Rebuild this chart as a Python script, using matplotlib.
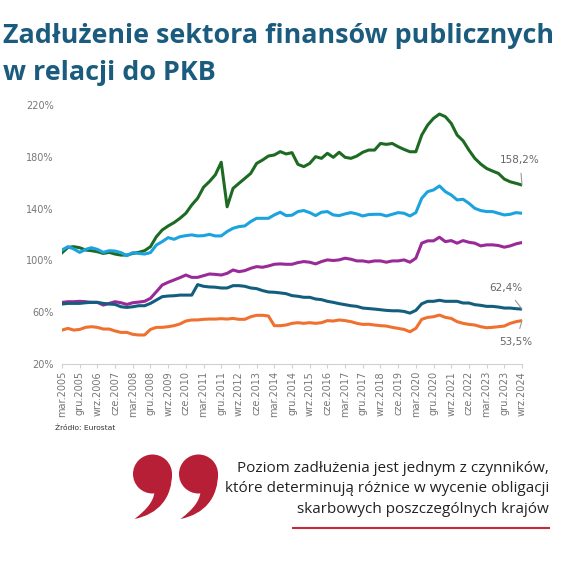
import numpy as np
import matplotlib.pyplot as plt
from matplotlib.path import Path
from matplotlib.patches import PathPatch, Circle

# quarterly, mar.2005 .. wrz.2024
months = ["mar", "cze", "wrz", "gru"]
quarters = [f"{months[q]}.{y}" for y in range(2005, 2025) for q in range(4)][:79]

greece = [105.9, 110.0, 110.6, 109.8, 108.0, 107.5, 106.7, 105.4, 106.2, 104.9,
          104.1, 104.1, 105.4, 106.2, 107.5, 110.6, 118.3, 123.5, 126.6, 129.2,
          132.5, 136.4, 142.8, 148.0, 156.5, 160.9, 166.1, 175.8, 141.4, 155.6,
          159.5, 163.3, 167.2, 174.9, 177.5, 180.6, 181.4, 184.0, 182.2, 183.2,
          174.2, 172.4, 174.9, 180.1, 178.8, 182.7, 179.6, 183.5, 179.6, 178.8,
          180.6, 183.5, 185.2, 185.2, 190.3, 189.6, 190.3, 187.8, 185.7, 183.9,
          183.9, 196.8, 204.5, 209.7, 213.0, 211.0, 205.8, 196.8, 192.4, 185.2,
          178.8, 174.4, 171.0, 169.0, 167.2, 162.8, 160.7, 159.5, 158.2]
italy = [108.0, 110.6, 108.8, 106.2, 108.5, 109.8, 108.5, 106.2, 107.5, 107.2,
         106.0, 103.6, 106.0, 105.4, 104.9, 106.0, 111.9, 114.5, 117.6, 116.3,
         118.3, 119.1, 119.7, 118.9, 119.1, 120.1, 118.9, 118.9, 122.3, 124.8,
         126.1, 126.6, 130.0, 132.5, 132.5, 132.5, 135.1, 137.2, 134.6, 134.9,
         137.7, 138.5, 136.9, 134.6, 137.2, 137.7, 135.1, 134.6, 135.9, 136.9,
         135.9, 134.3, 135.4, 135.6, 135.6, 134.3, 135.6, 136.9, 136.4, 134.3,
         136.9, 148.0, 153.1, 154.4, 157.5, 153.1, 150.5, 146.7, 147.2, 144.1,
         140.2, 138.5, 137.7, 137.7, 136.4, 135.1, 135.6, 136.9, 136.4]
france = [67.6, 68.1, 68.1, 68.4, 68.1, 67.6, 67.6, 65.5, 66.8, 68.1,
          67.3, 66.0, 67.3, 67.8, 68.4, 70.7, 75.8, 81.0, 83.1, 84.9,
          86.7, 88.7, 86.9, 86.9, 88.2, 89.5, 89.2, 88.7, 90.0, 92.6,
          91.3, 92.1, 93.9, 95.2, 94.7, 95.7, 97.0, 97.3, 97.0, 97.0,
          98.3, 99.1, 98.6, 97.3, 99.1, 100.4, 99.9, 100.4, 101.7, 100.9,
          99.6, 99.6, 98.8, 99.6, 99.6, 98.6, 99.6, 99.6, 100.4, 98.6,
          101.7, 113.3, 115.1, 115.1, 117.9, 114.5, 115.3, 113.3, 115.3, 114.0,
          113.3, 111.2, 112.0, 112.0, 111.5, 110.2, 111.2, 112.8, 113.8]
germany = [66.3, 66.8, 66.8, 66.8, 67.3, 67.6, 67.6, 66.8, 66.3, 66.0,
           64.2, 63.7, 64.2, 65.0, 65.0, 66.8, 69.4, 72.0, 72.5, 72.7,
           73.2, 73.2, 73.2, 81.3, 80.0, 79.5, 79.3, 78.7, 78.7, 80.5,
           80.5, 80.0, 78.7, 78.2, 76.7, 75.6, 75.4, 74.9, 74.3, 72.8,
           72.3, 71.5, 71.5, 70.2, 69.7, 68.4, 67.6, 66.6, 65.8, 65.0,
           64.5, 63.2, 62.8, 62.4, 61.9, 61.4, 61.1, 61.1, 60.6, 59.3,
           61.4, 66.5, 68.4, 68.4, 69.2, 68.4, 68.4, 68.4, 67.1, 67.1,
           65.8, 65.3, 64.5, 64.5, 64.0, 63.2, 63.2, 62.7, 62.4]
poland = [46.2, 47.5, 46.2, 46.7, 48.3, 48.8, 48.3, 47.0, 47.0, 45.5,
          44.4, 44.4, 42.9, 42.4, 42.4, 46.7, 48.3, 48.3, 48.8, 49.6,
          50.9, 53.2, 54.0, 54.0, 54.5, 54.7, 54.7, 55.0, 54.7, 55.2,
          54.5, 54.5, 56.5, 57.6, 57.6, 57.1, 49.6, 49.6, 50.1, 51.4,
          51.9, 51.4, 51.9, 51.4, 51.9, 53.5, 53.2, 54.0, 53.5, 52.7,
          51.4, 50.6, 50.7, 50.1, 49.6, 49.3, 48.3, 47.5, 46.7, 44.9,
          47.5, 54.5, 56.0, 56.5, 57.8, 56.0, 55.2, 52.7, 51.4, 50.6,
          50.1, 48.8, 48.0, 48.3, 48.8, 49.3, 51.4, 52.7, 53.5]

series = [
    (greece, "#1d6b22"),
    (italy, "#1ba3df"),
    (france, "#9a2a98"),
    (germany, "#135e7e"),
    (poland, "#f0712f"),
]

# end labels: text offset from the last point, in pixels (right, up)
labels = [(greece, "158,2%", (-2, 25)),
          (germany, "62,4%", (-16, 21)),
          (poland, "53,5%", (-6, -21))]

W = 564
def fx(px):
    return px / W
def fy(py):
    return 1 - py / W

fig = plt.figure(figsize=(5.64, 5.64), dpi=100)
fig.patch.set_facecolor("white")

title_kw = dict(fontsize=19.4, fontweight="bold", color="#1b5c7e", family="Open Sans")
fig.text(fx(3), fy(43), "Zadłużenie sektora finansów publicznych", **title_kw)
fig.text(fx(3), fy(80), "w relacji do PKB", **title_kw)

ax = fig.add_axes([fx(62), fy(364), 460 / W, 259 / W])
x = np.arange(len(quarters))
for vals, col in series:
    ax.plot(x, vals, color=col, lw=2.2, solid_joinstyle="round")

for vals, txt, off in labels:
    ax.annotate(txt, xy=(x[-1], vals[-1]), xytext=(off[0] * 0.72, off[1] * 0.72),
                textcoords="offset points", ha="center", va="center",
                fontsize=7.5, color="#666666",
                arrowprops=dict(arrowstyle="-", color="#999999", lw=0.8,
                                shrinkA=4, shrinkB=0))

ax.set_xlim(0, 78)
ax.set_ylim(20, 220)
yt = [20, 60, 100, 140, 180, 220]
ax.set_yticks(yt)
ax.set_yticklabels([f"{v}%" for v in yt])
ax.set_xticks(x[::3])
ax.set_xticklabels(quarters[::3], rotation=90)
for s in ["top", "right", "left"]:
    ax.spines[s].set_visible(False)
ax.spines["bottom"].set_color("#d0d0d0")
ax.tick_params(axis="y", length=0, labelsize=7, labelcolor="#777777", pad=6)
ax.tick_params(axis="x", length=3, color="#d0d0d0", labelsize=7,
               labelcolor="#777777", pad=2)

fig.text(fx(55), fy(430), "Źródło: Eurostat", fontsize=5.4, color="#333333")

# two red "99" quotation marks
red = "#b61f35"
for dx in [0, 46]:
    cx, cy, r = 152.5 + dx, 474, 19.5
    fig.add_artist(Circle((fx(cx), fy(cy)), r / W, transform=fig.transFigure,
                          color=red, lw=0))
    pts = [(cx + 19.5, 472), (cx + 20, 498), (cx + 6, 514), (cx - 18, 519),
           (cx - 5, 509), (cx + 1, 501), (cx + 2, 492), (cx + 19.5, 472)]
    codes = [Path.MOVETO, Path.CURVE4, Path.CURVE4, Path.CURVE4,
             Path.CURVE4, Path.CURVE4, Path.CURVE4, Path.CLOSEPOLY]
    path = Path([(fx(a), fy(b)) for a, b in pts], codes)
    fig.add_artist(PathPatch(path, transform=fig.transFigure, color=red, lw=0))

quote = ["Poziom zadłużenia jest jednym z czynników,",
         "które determinują różnice w wycenie obligacji",
         "skarbowych poszczególnych krajów"]
for k, line in enumerate(quote):
    fig.text(fx(549), fy(472 + k * 20.5), line, fontsize=11,
             color="#222222", family="Open Sans", ha="right", va="baseline")
fig.add_artist(plt.Line2D([fx(293), fx(549)], [fy(528), fy(528)],
                          color="#c8283c", lw=1.5))

fig.savefig("out.png", dpi=100)
